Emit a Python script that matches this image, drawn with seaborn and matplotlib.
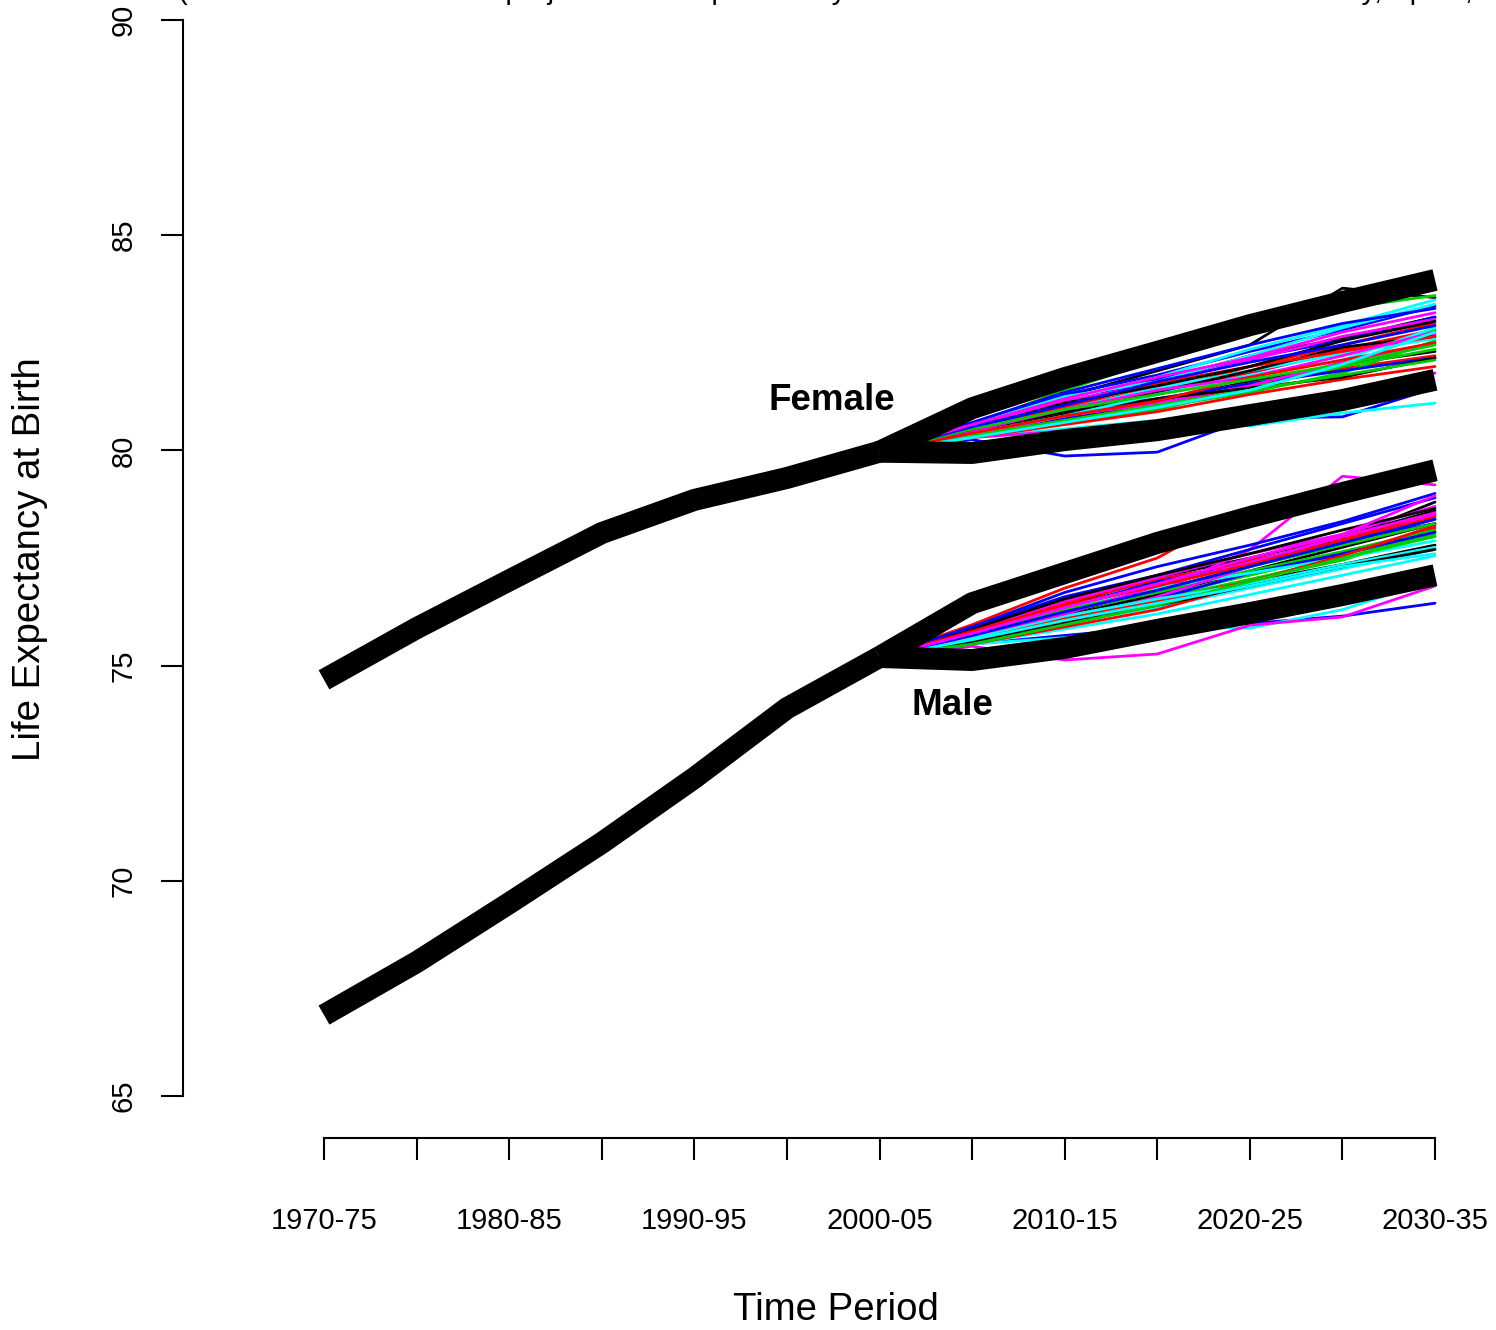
import matplotlib
matplotlib.use("Agg")
import matplotlib.pyplot as plt
import numpy as np
import pandas as pd
import seaborn as sns

# Five-year periods on the x axis
periods = ["1970-75", "1975-80", "1980-85", "1985-90", "1990-95", "1995-00",
           "2000-05", "2005-10", "2010-15", "2015-20", "2020-25", "2025-30",
           "2030-35"]

# Observed life expectancy, 1970-75 .. 2000-05
female_hist = [74.67, 75.87, 76.98, 78.08, 78.85, 79.36, 79.97]
male_hist = [66.88, 68.11, 69.48, 70.88, 72.39, 74.01, 75.20]

# Projection interval bounds, 2000-05 .. 2030-35
female_upper = [79.97, 80.98, 81.68, 82.29, 82.91, 83.45, 83.96]
female_lower = [79.97, 79.94, 80.24, 80.47, 80.82, 81.17, 81.64]
male_upper = [75.20, 76.45, 77.15, 77.85, 78.45, 79.01, 79.54]
male_lower = [75.20, 75.13, 75.41, 75.83, 76.22, 76.64, 77.10]

# Simulated trajectories, 2005-10 .. 2030-35
female_traj = [
    [80.55, 81.25, 81.85, 82.45, 83.77, 83.55],
    [80.45, 80.95, 81.35, 81.95, 82.45, 82.95],
    [80.60, 81.40, 82.10, 83.05, 83.30, 83.60],
    [80.25, 79.87, 79.96, 80.75, 80.78, 81.45],
    [80.30, 80.50, 80.70, 80.57, 80.87, 81.10],
    [80.30, 80.45, 80.60, 80.62, 81.05, 81.80],
    [80.50, 81.00, 81.60, 82.20, 82.60, 83.10],
    [80.35, 80.70, 81.05, 81.50, 81.90, 82.20],
    [80.40, 80.75, 81.00, 81.35, 81.80, 82.55],
    [80.60, 81.30, 81.75, 82.30, 82.80, 83.35],
    [80.55, 81.20, 81.70, 82.35, 82.90, 83.50],
    [80.40, 80.85, 81.30, 81.80, 82.30, 82.70],
    [80.35, 80.70, 81.15, 81.60, 82.00, 82.30],
    [80.50, 81.00, 81.45, 81.80, 82.35, 82.80],
    [80.30, 80.65, 80.95, 81.45, 81.95, 82.35],
    [80.50, 81.10, 81.65, 82.15, 82.55, 83.10],
    [80.45, 80.95, 81.45, 81.85, 82.25, 82.60],
    [80.55, 81.15, 81.55, 82.10, 82.65, 83.05],
    [80.40, 80.85, 81.35, 81.85, 82.40, 82.65],
    [80.30, 80.60, 80.90, 81.30, 81.65, 81.95],
    [80.45, 80.90, 81.20, 81.55, 81.95, 82.80],
    [80.35, 80.75, 81.20, 81.55, 81.85, 82.15],
    [80.60, 81.25, 81.60, 82.20, 82.85, 83.40],
    [80.35, 80.80, 81.10, 81.50, 82.05, 82.50],
    [80.45, 80.90, 81.20, 81.45, 81.70, 82.15],
    [80.55, 81.05, 81.55, 81.95, 82.30, 82.65],
    [80.35, 80.70, 81.05, 81.40, 81.75, 82.10],
    [80.65, 81.35, 81.90, 82.45, 82.95, 83.30],
    [80.40, 80.80, 81.30, 81.75, 82.10, 82.85],
    [80.45, 80.95, 81.40, 81.70, 82.20, 82.75],
    [80.50, 81.10, 81.50, 81.95, 82.55, 83.00],
    [80.40, 80.80, 81.15, 81.70, 82.10, 82.50],
    [80.50, 80.95, 81.30, 81.65, 82.00, 82.45],
    [80.55, 81.05, 81.60, 82.05, 82.45, 82.90],
    [80.30, 80.65, 81.00, 81.40, 82.00, 82.75],
    [80.60, 81.20, 81.70, 82.15, 82.75, 83.20],
]

male_traj = [
    [75.80, 76.40, 77.05, 77.50, 78.00, 78.60],
    [75.95, 76.80, 77.50, 78.68, 79.00, 79.30],
    [75.60, 76.05, 76.60, 77.10, 77.60, 78.00],
    [75.50, 75.70, 75.90, 75.98, 76.15, 76.45],
    [75.50, 75.65, 75.90, 75.87, 76.30, 77.00],
    [75.60, 76.10, 76.70, 77.69, 79.40, 79.20],
    [75.65, 76.20, 76.75, 77.30, 77.95, 78.80],
    [75.70, 76.30, 76.90, 77.45, 77.85, 78.40],
    [75.55, 76.00, 76.50, 77.00, 77.45, 78.10],
    [75.90, 76.60, 77.10, 77.70, 78.30, 78.90],
    [75.60, 76.00, 76.35, 76.80, 77.25, 77.70],
    [75.45, 75.13, 75.27, 75.94, 76.13, 76.85],
    [75.55, 75.95, 76.45, 76.95, 77.35, 77.80],
    [75.80, 76.45, 77.00, 77.40, 77.95, 78.50],
    [75.65, 76.10, 76.55, 77.00, 77.50, 78.05],
    [75.75, 76.35, 76.95, 77.35, 77.90, 78.30],
    [75.50, 75.85, 76.20, 76.65, 77.10, 77.55],
    [75.85, 76.50, 77.05, 77.60, 78.05, 78.70],
    [75.60, 76.15, 76.65, 77.20, 77.75, 78.30],
    [75.50, 75.90, 76.30, 76.90, 77.60, 78.20],
    [75.70, 76.25, 76.70, 77.20, 77.65, 78.15],
    [75.60, 76.05, 76.55, 77.15, 77.60, 78.10],
    [75.75, 76.30, 76.80, 77.15, 77.50, 77.90],
    [75.55, 76.00, 76.60, 77.30, 77.85, 78.50],
    [75.85, 76.55, 77.10, 77.60, 78.15, 78.65],
    [75.60, 76.10, 76.50, 76.95, 77.55, 78.25],
    [75.75, 76.30, 76.75, 77.30, 77.80, 78.30],
    [75.90, 76.70, 77.30, 77.80, 78.35, 79.00],
    [75.65, 76.15, 76.55, 76.90, 77.35, 77.75],
    [75.70, 76.20, 76.85, 77.40, 78.00, 78.55],
    [75.55, 76.00, 76.40, 76.85, 77.30, 77.70],
    [75.80, 76.40, 76.85, 77.35, 77.90, 78.45],
    [75.50, 75.95, 76.40, 76.95, 77.50, 78.00],
    [75.70, 76.25, 76.75, 77.30, 77.85, 78.40],
    [75.60, 76.05, 76.45, 76.85, 77.30, 77.60],
    [75.75, 76.35, 76.90, 77.50, 78.05, 78.95],
]

line_colors = ["#000000", "#FF0000", "#00CD00", "#0000FF", "#00FFFF", "#FF00FF"]

sns.set_style("white")
plt.rcParams["font.family"] = ["Liberation Sans", "DejaVu Sans"]
plt.rcParams["text.color"] = "black"
plt.rcParams["axes.labelcolor"] = "black"

W, H = 1496, 1330
fig = plt.figure(figsize=(W / 100, H / 100), dpi=100)
# axes box: left spine at x=183px, bottom spine at y=1138px
ax = fig.add_axes([183 / W, (H - 1138) / H, (1479 - 183) / W, (1138 + 23) / H])

x_hist = np.arange(7)
x_proj = np.arange(6, 13)


def traj_frame(trajs, start):
    rows = []
    for k, tr in enumerate(trajs):
        vals = [start] + list(tr)
        for t, v in zip(x_proj, vals):
            rows.append({"t": t, "e0": v, "traj": k})
    return pd.DataFrame(rows)


for trajs, start in [(female_traj, female_hist[-1]), (male_traj, male_hist[-1])]:
    df = traj_frame(trajs, start)
    pal = [line_colors[k % 6] for k in range(len(trajs))]
    sns.lineplot(data=df, x="t", y="e0", hue="traj", palette=pal,
                 estimator=None, legend=False, linewidth=2.0, ax=ax)

thick = dict(color="black", linewidth=15.8, solid_capstyle="butt",
             solid_joinstyle="round", ax=ax, estimator=None)
for xs, ys in [(x_hist, female_hist), (x_hist, male_hist),
               (x_proj, female_upper), (x_proj, female_lower),
               (x_proj, male_upper), (x_proj, male_lower)]:
    sns.lineplot(x=xs, y=ys, **thick)

ax.set_xlim(-1.523, 12.475)
ax.set_ylim(64.024, 91.0)

for s in ["top", "right"]:
    ax.spines[s].set_visible(False)
ax.spines["left"].set_bounds(65, 90)
ax.spines["bottom"].set_bounds(0, 12)
for s in ["left", "bottom"]:
    ax.spines[s].set_color("black")
    ax.spines[s].set_linewidth(1.5)

ax.set_xticks(np.arange(13))
ax.set_xticklabels([p if i % 2 == 0 else "" for i, p in enumerate(periods)])
ax.set_yticks([65, 70, 75, 80, 85, 90])
ax.set_yticklabels(["65", "70", "75", "80", "85", "90"], rotation=90, va="center")
ax.tick_params(axis="both", direction="out", length=15.8, width=1.5,
               color="black", labelsize=21, labelcolor="black",
               left=True, bottom=True)
ax.tick_params(axis="y", pad=17)
ax.tick_params(axis="x", pad=34)
ax.set_xlabel("")
ax.set_ylabel("")
ax.grid(False)

fig.text(30 / W, 1 - 559 / H, "Life Expectancy at Birth", rotation=90,
         ha="center", va="center", fontsize=27.6, color="black")
fig.text(836 / W, 1 - 1310 / H, "Time Period", ha="center", va="center",
         fontsize=27.6, color="black")

ax.text(5.48, 81.17, "Female", fontsize=26.5, fontweight="bold",
        ha="center", va="center", color="black")
ax.text(6.79, 74.08, "Male", fontsize=26.5, fontweight="bold",
        ha="center", va="center", color="black")

# subtitle line sits just above the top edge of the canvas
fig.text(178 / W, 1 + 1 / H,
         "(Historical estimates and projections interpolated by the author from model estimates for Italy, Spain, Portugal)",
         ha="left", va="baseline", fontsize=21, color="black")

fig.savefig("out.png", dpi=100)
